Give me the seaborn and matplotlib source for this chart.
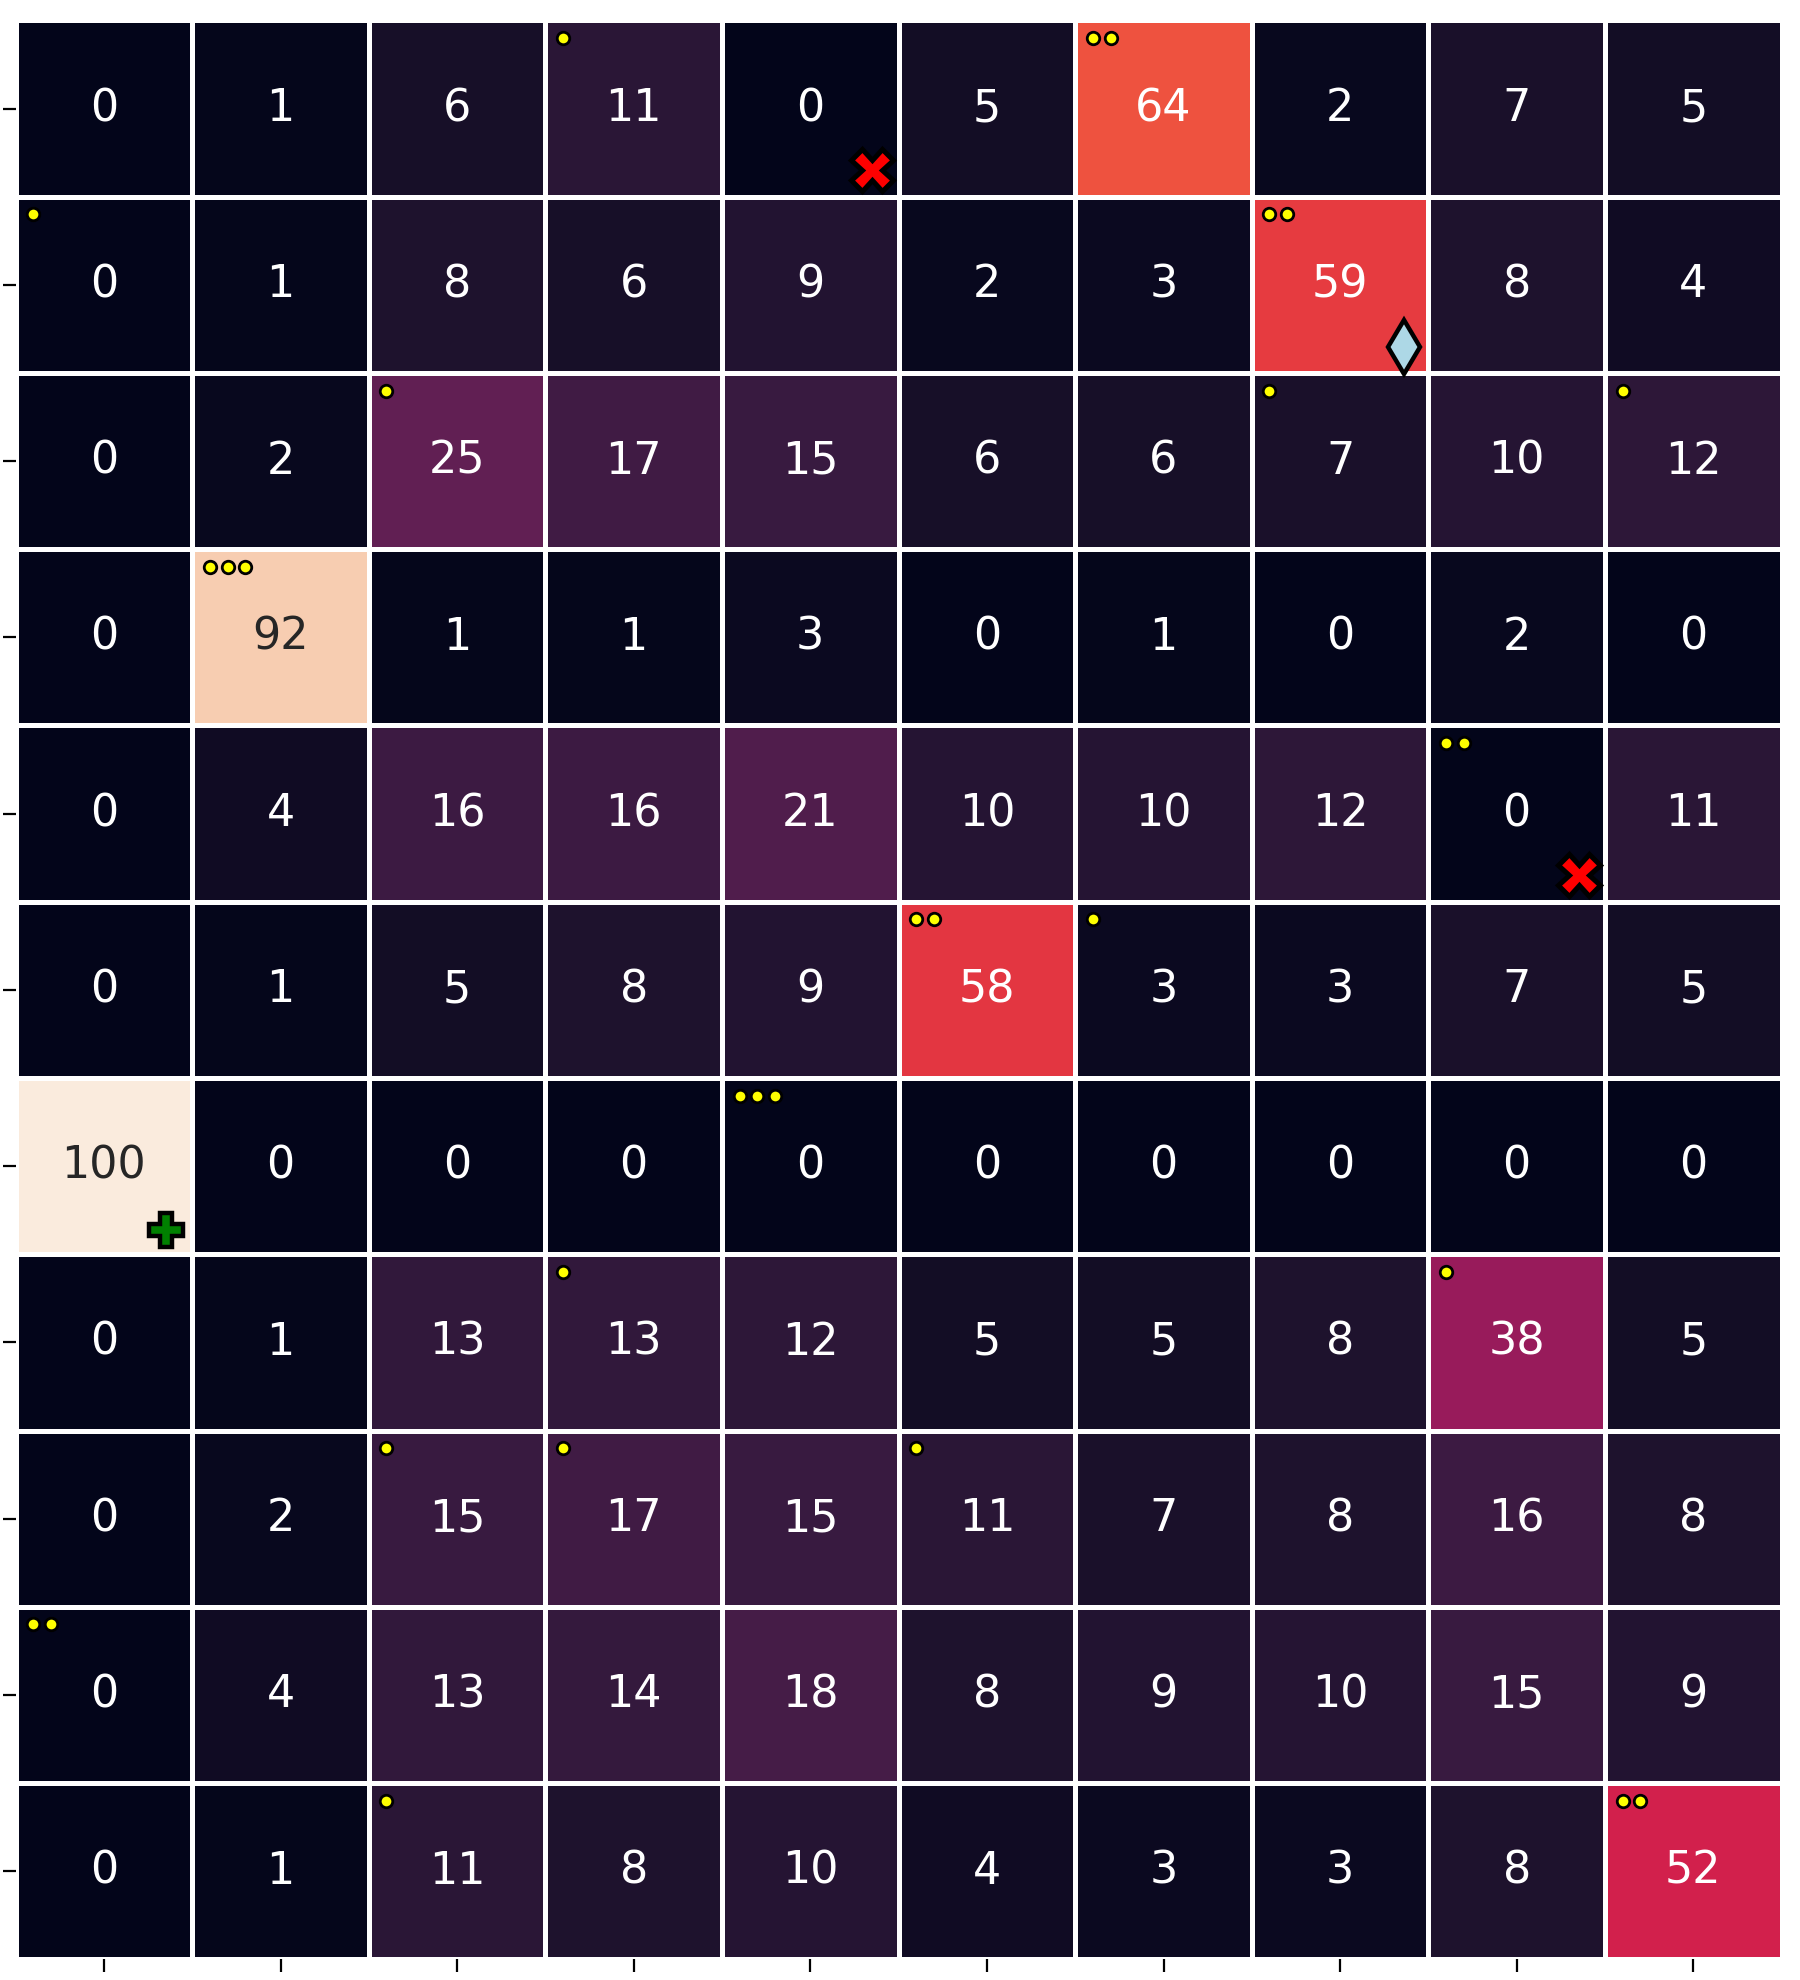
import numpy as np
import matplotlib
matplotlib.use("Agg")
import matplotlib.pyplot as plt
import seaborn as sns

# cell values (percent), 11 rows x 10 columns
row_0 = [0, 1, 6, 11, 0, 5, 64, 2, 7, 5]
row_1 = [0, 1, 8, 6, 9, 2, 3, 59, 8, 4]
row_2 = [0, 2, 25, 17, 15, 6, 6, 7, 10, 12]
row_3 = [0, 92, 1, 1, 3, 0, 1, 0, 2, 0]
row_4 = [0, 4, 16, 16, 21, 10, 10, 12, 0, 11]
row_5 = [0, 1, 5, 8, 9, 58, 3, 3, 7, 5]
row_6 = [100, 0, 0, 0, 0, 0, 0, 0, 0, 0]
row_7 = [0, 1, 13, 13, 12, 5, 5, 8, 38, 5]
row_8 = [0, 2, 15, 17, 15, 11, 7, 8, 16, 8]
row_9 = [0, 4, 13, 14, 18, 8, 9, 10, 15, 9]
row_10 = [0, 1, 11, 8, 10, 4, 3, 3, 8, 52]

# significance dots: (row, col, number of dots)
sig_cells = [(0, 3, 1), (0, 6, 2), (1, 0, 1), (1, 7, 2), (2, 2, 1), (2, 7, 1),
             (2, 9, 1), (3, 1, 3), (4, 8, 2), (5, 5, 2), (5, 6, 1), (6, 4, 3),
             (7, 3, 1), (7, 8, 1), (8, 2, 1), (8, 3, 1), (8, 5, 1), (9, 0, 2),
             (10, 2, 1), (10, 9, 2)]

# flagged cells
cross_cells = [(0, 4), (4, 8)]
diamond_cells = [(1, 7)]
plus_cells = [(6, 0)]

data = np.array([row_0, row_1, row_2, row_3, row_4, row_5,
                 row_6, row_7, row_8, row_9, row_10], dtype=float)
n_rows, n_cols = data.shape

fig = plt.figure(figsize=(9, 9.9), dpi=200)
ax = fig.add_axes([15.6 / 1800, 20.6 / 1980, 1766 / 1800, 1939 / 1980])

sns.heatmap(data, ax=ax, cmap="rocket", vmin=0, vmax=100, annot=True, fmt=".0f",
            annot_kws={"fontsize": 16}, linewidths=1.2, linecolor="white",
            cbar=False, xticklabels=[""] * n_cols, yticklabels=[""] * n_rows)

ax.tick_params(axis="both", length=4.8, width=0.8, color="black")

for r, c, n in sig_cells:
    for k in range(n):
        ax.plot(c + 0.1 + 0.1 * k, r + 0.1, marker="o", ms=4.5,
                mfc="yellow", mec="black", mew=1.0, ls="none")

for r, c in cross_cells:
    ax.plot(c + 0.85, r + 0.85, marker="X", ms=15, mfc="red", mec="black",
            mew=1.8, ls="none")
for r, c in diamond_cells:
    ax.plot(c + 0.86, r + 0.85, marker="d", ms=13.5, mfc="lightblue", mec="black",
            mew=1.6, ls="none")
for r, c in plus_cells:
    ax.plot(c + 0.85, r + 0.86, marker="P", ms=12.5, mfc="green", mec="black",
            mew=1.6, ls="none")

fig.savefig("out.png", dpi=200)
